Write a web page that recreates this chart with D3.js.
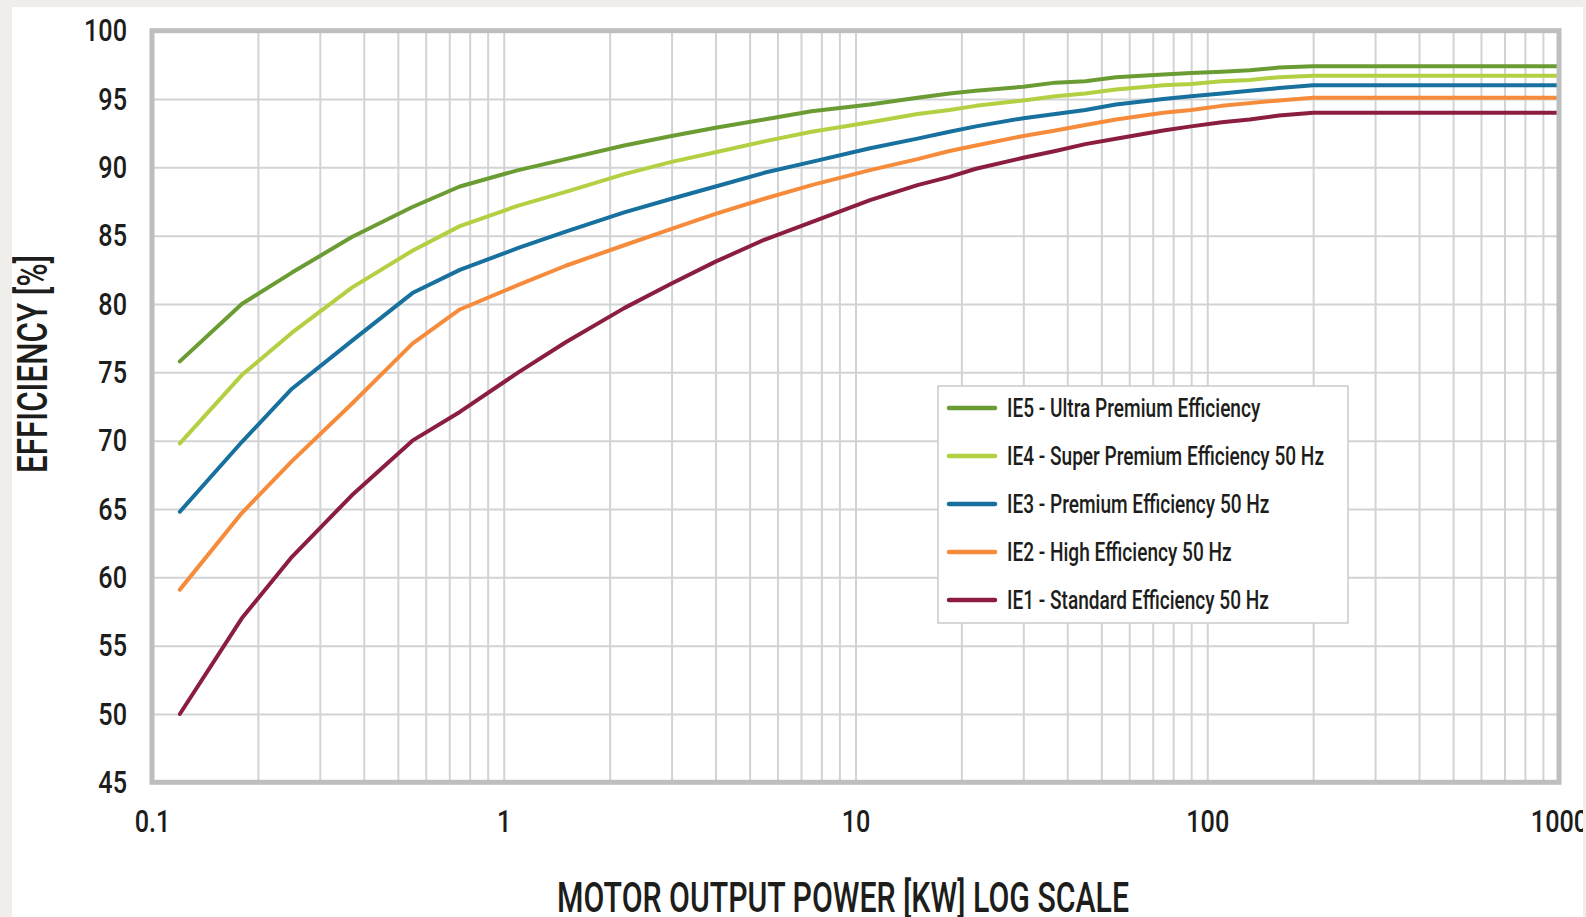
<!DOCTYPE html>
<html>
<head>
<meta charset="utf-8">
<script src="https://cdn.jsdelivr.net/npm/d3@7"></script>
<style>
  body { margin: 0; background: #efeeea; }
  svg { display: block; }
  text { font-family: Roboto, "DejaVu Sans", sans-serif; font-weight: 500; fill: #1d1d1b; }
</style>
</head>
<body>
<svg id="chart" width="1586" height="917"></svg>
<script>
// motor power (kW) where the curves have points
var powers = [0.12, 0.18, 0.25, 0.37, 0.55, 0.75, 1.1, 1.5, 2.2, 3, 4, 5.5, 7.5,
  11, 15, 18.5, 22, 30, 37, 45, 55, 75, 90, 110, 132, 160, 200, 1000];

var ie5 = [75.8, 80.0, 82.3, 84.9, 87.1, 88.6, 89.8, 90.6, 91.6, 92.3, 92.9, 93.5, 94.1,
  94.6, 95.1, 95.4, 95.6, 95.9, 96.2, 96.3, 96.6, 96.8, 96.9, 97.0, 97.1, 97.3, 97.4, 97.4];
var ie4 = [69.8, 74.8, 77.9, 81.2, 83.9, 85.7, 87.2, 88.2, 89.5, 90.4, 91.1, 91.9, 92.6,
  93.3, 93.9, 94.2, 94.5, 94.9, 95.2, 95.4, 95.7, 96.0, 96.1, 96.3, 96.4, 96.6, 96.7, 96.7];
var ie3 = [64.8, 69.9, 73.8, 77.3, 80.8, 82.5, 84.1, 85.3, 86.7, 87.7, 88.6, 89.6, 90.4,
  91.4, 92.1, 92.6, 93.0, 93.6, 93.9, 94.2, 94.6, 95.0, 95.2, 95.4, 95.6, 95.8, 96.0, 96.0];
var ie2 = [59.1, 64.7, 68.5, 72.7, 77.1, 79.6, 81.4, 82.8, 84.3, 85.5, 86.6, 87.7, 88.7,
  89.8, 90.6, 91.2, 91.6, 92.3, 92.7, 93.1, 93.5, 94.0, 94.2, 94.5, 94.7, 94.9, 95.1, 95.1];
var ie1 = [50.0, 57.0, 61.5, 66.0, 70.0, 72.1, 75.0, 77.2, 79.7, 81.5, 83.1, 84.7, 86.0,
  87.6, 88.7, 89.3, 89.9, 90.7, 91.2, 91.7, 92.1, 92.7, 93.0, 93.3, 93.5, 93.8, 94.0, 94.0];

var seriesNames = [
  "IE5 - Ultra Premium Efficiency",
  "IE4 - Super Premium Efficiency 50 Hz",
  "IE3 - Premium Efficiency 50 Hz",
  "IE2 - High Efficiency 50 Hz",
  "IE1 - Standard Efficiency 50 Hz"
];
var seriesValues = [ie5, ie4, ie3, ie2, ie1];
var seriesColors = ["#6b9c33", "#b3cf42", "#17709e", "#f68c3b", "#8b1d3f"];

var xTicks = [0.1, 1, 10, 100, 1000];
var yTicks = [45, 50, 55, 60, 65, 70, 75, 80, 85, 90, 95, 100];

var plotL = 152, plotR = 1559, plotT = 30.7, plotB = 782.3;

var svg = d3.select('#chart');

svg.append('clipPath').attr('id', 'panelClip')
  .append('rect').attr('x', 12).attr('y', 7).attr('width', 1571).attr('height', 910);

var root = svg.append('g').attr('clip-path', 'url(#panelClip)');
root.append('rect').attr('x', 12).attr('y', 7).attr('width', 1571).attr('height', 910).attr('fill', '#ffffff');

var x = d3.scaleLog().domain([0.1, 1000]).range([plotL, plotR]);
var y = d3.scaleLinear().domain([45, 100]).range([plotB, plotT]);

// the reference uses a condensed face, squeeze the glyphs to match
function squeeze(sel, factor) {
  sel.each(function() {
    var w = this.getComputedTextLength();
    d3.select(this).attr('textLength', w * factor).attr('lengthAdjust', 'spacingAndGlyphs');
  });
}
function fitWidth(sel, width) {
  sel.attr('textLength', width).attr('lengthAdjust', 'spacingAndGlyphs');
}

// grid
var gGrid = root.append('g').attr('class', 'grid');
gGrid.append('g')
  .attr('transform', 'translate(0,' + plotB + ')')
  .call(d3.axisBottom(x).tickValues(x.ticks()).tickSize(-(plotB - plotT)).tickFormat(''))
  .call(function(g) { g.select('.domain').remove(); });
gGrid.append('g')
  .attr('transform', 'translate(' + plotL + ',0)')
  .call(d3.axisLeft(y).tickValues(yTicks).tickSize(-(plotR - plotL)).tickFormat(''))
  .call(function(g) { g.select('.domain').remove(); });
gGrid.selectAll('line').attr('stroke', '#d2d3d5').attr('stroke-width', 2);

// curves
var line = d3.line()
  .x(function(d) { return x(d[0]); })
  .y(function(d) { return y(d[1]); });

var gLines = root.append('g').attr('class', 'curves');
seriesValues.slice().reverse().forEach(function(vals, k) {
  var i = seriesValues.length - 1 - k;
  gLines.append('path')
    .datum(powers.map(function(p, j) { return [p, vals[j]]; }))
    .attr('d', line)
    .attr('fill', 'none')
    .attr('stroke', seriesColors[i])
    .attr('stroke-width', 4)
    .attr('stroke-linejoin', 'round')
    .attr('stroke-linecap', 'round');
});

// frame
root.append('rect')
  .attr('x', plotL).attr('y', plotT)
  .attr('width', plotR - plotL).attr('height', plotB - plotT)
  .attr('fill', 'none').attr('stroke', '#bdbec0').attr('stroke-width', 5);

// axis labels
var gx = root.append('g')
  .attr('transform', 'translate(0,' + plotB + ')')
  .call(d3.axisBottom(x).tickValues(xTicks).tickSize(0).tickPadding(27).tickFormat(d3.format('~g')));
gx.select('.domain').remove();
gx.selectAll('text').attr('font-size', 32).attr('font-family', null).attr('fill', '#1d1d1b');

var gy = root.append('g')
  .attr('transform', 'translate(' + plotL + ',0)')
  .call(d3.axisLeft(y).tickValues(yTicks).tickSize(0).tickPadding(25));
gy.select('.domain').remove();
gy.selectAll('text').attr('font-size', 32).attr('font-family', null).attr('fill', '#1d1d1b');

var tickFactor = 43 / gy.selectAll('text').filter(function(d) { return d === 100; }).node().getComputedTextLength();
squeeze(gx.selectAll('text'), tickFactor);
squeeze(gy.selectAll('text'), tickFactor);

var xTitle = root.append('text')
  .attr('x', 843).attr('y', 912)
  .attr('text-anchor', 'middle')
  .attr('font-size', 43)
  .text('MOTOR OUTPUT POWER [KW] LOG SCALE');
fitWidth(xTitle, 572);

var yTitle = root.append('text')
  .attr('transform', 'translate(47,364) rotate(-90)')
  .attr('text-anchor', 'middle')
  .attr('font-size', 42)
  .text('EFFICIENCY [%]');
fitWidth(yTitle, 218);

// legend
var gLegend = root.append('g').attr('class', 'legend');
gLegend.append('rect')
  .attr('x', 938).attr('y', 386).attr('width', 410).attr('height', 237)
  .attr('fill', '#ffffff').attr('stroke', '#c9cacc').attr('stroke-width', 1.5);

var items = gLegend.selectAll('g.item')
  .data(seriesNames)
  .enter().append('g')
  .attr('class', 'item')
  .attr('transform', function(d, i) { return 'translate(949,' + (408 + i * 48) + ')'; });
items.append('line')
  .attr('x1', 0).attr('x2', 46)
  .attr('stroke', function(d, i) { return seriesColors[i]; })
  .attr('stroke-width', 4.5)
  .attr('stroke-linecap', 'round');
var legendText = items.append('text')
  .attr('x', 58).attr('dy', '0.35em')
  .attr('font-size', 25)
  .attr('font-weight', 400)
  .text(function(d) { return d; });
var legendFactor = 317 / legendText.filter(function(d, i) { return i === 1; }).node().getComputedTextLength();
squeeze(legendText, legendFactor);
</script>
</body>
</html>
